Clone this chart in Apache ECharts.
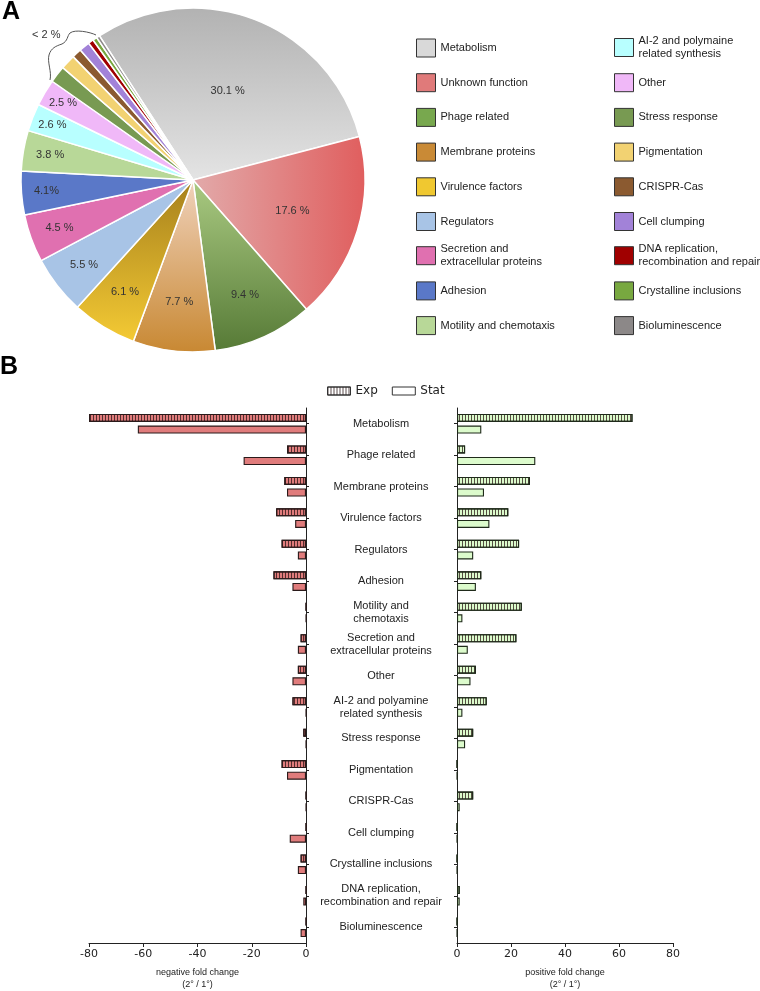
<!DOCTYPE html>
<html><head><meta charset="utf-8">
<script src="https://cdn.jsdelivr.net/npm/echarts@6/dist/echarts.min.js"></script>
<style>html,body{margin:0;padding:0;background:#fff}#c{width:760px;height:991px}</style>
</head><body><div id="c"></div>
<script>
// ---------- Panel A data ----------
const pieCategories = ['Metabolism','Unknown function','Phage related','Membrane proteins','Virulence factors','Regulators','Secretion and\nextracellular proteins','Adhesion','Motility and chemotaxis','AI-2 and polymaine\nrelated synthesis','Other','Stress response','Pigmentation','CRISPR-Cas','Cell clumping','DNA replication,\nrecombination and repair','Crystalline inclusions','Bioluminescence'];
const pieValues = [30.1,17.6,9.4,7.7,6.1,5.5,4.5,4.1,3.8,2.6,2.5,1.6,1.4,0.9,1.0,0.5,0.4,0.3];
const pieLabelText = ['30.1 %','17.6 %','9.4 %','7.7 %','6.1 %','5.5 %','4.5 %','4.1%','3.8 %','2.6 %','2.5 %'];

// ---------- Panel B data ----------
const barCategories = ['Metabolism','Phage related','Membrane proteins','Virulence factors','Regulators','Adhesion','Motility and\nchemotaxis','Secretion and\nextracellular proteins','Other','AI-2 and polyamine\nrelated synthesis','Stress response','Pigmentation','CRISPR-Cas','Cell clumping','Crystalline inclusions','DNA replication,\nrecombination and repair','Bioluminescence'];
const negExp  = [-80,-7,-8,-11,-9,-12,0,-2,-3,-5,-1,-9,0,0,-2,0,0];
const negStat = [-62,-23,-7,-4,-3,-5,0,-3,-5,0,0,-7,0,-6,-3,-1,-2];
const posExp  = [65,3,27,19,23,9,24,22,7,11,6,0,6,0,0,1,0];
const posStat = [9,29,10,12,6,7,2,4,5,2,3,0,1,0,0,1,0];
const negTicks = [-80,-60,-40,-20,0];
const posTicks = [0,20,40,60,80];

// ---------- styles ----------
const flatColors = ['#d9d9d9','#e07a7a','#78a84e','#c98a36','#f0c830','#a8c4e6','#e070b0','#5a78c8','#b8d898','#b8ffff','#f0b8f8','#789a52','#f2d272','#8b5a30','#a282d8','#a00000','#78a840','#8c8888'];
function lin(x2,y2,c1,c2){return {type:'linear',x:0,y:0,x2:x2,y2:y2,colorStops:[{offset:0,color:c1},{offset:1,color:c2}]};}
const sliceFill = flatColors.slice();
sliceFill[0] = lin(0,1,'#b2b2b2','#e4e4e4');
sliceFill[1] = lin(1,0,'#e2aaaa','#e05e5e');
sliceFill[2] = lin(0,1,'#aaca82','#567a36');
sliceFill[3] = lin(0,1,'#f0d2bc','#c88832');
sliceFill[4] = lin(0,1,'#a6801c','#f4ca34');
const labelRadius = [96,104,126,123,131,138,142,147,145,151,151];
const pieCenter = [193,180];

const hatch = {symbol:'rect', symbolSize:1, dashArrayX:[1,2], dashArrayY:[4,0], color:'rgba(40,20,20,0.75)'};

const chart = echarts.init(document.getElementById('c'), null, {renderer:'canvas'});

const legends = pieCategories.map((name,i)=>{
  const col = i < 9 ? 0 : 1;
  const row = i % 9;
  const lines = name.split('\n').length;
  const h = Math.max(18, lines*13);
  const cy = 47.5 + row*34.7;
  return {
    data:[{name:name, itemStyle:{color:flatColors[i]}}],
    left: col===0 ? 416 : 614,
    top: cy - h/2,
    orient:'vertical', icon:'rect', itemWidth:19, itemHeight:18, itemGap:0, padding:0,
    selectedMode:false,
    itemStyle:{borderColor:'#333', borderWidth:1},
    textStyle:{fontSize:11, color:'#222', fontFamily:'Liberation Sans', lineHeight:13}
  };
});
legends.push({
  data:[{name:'Exp', itemStyle:{color:'#fff', borderColor:'#333', borderWidth:1, decal:hatch}},
        {name:'Stat', itemStyle:{color:'#fff', borderColor:'#333', borderWidth:1}}],
  left:327, top:385, icon:'rect', itemWidth:23, itemHeight:8, itemGap:14, padding:0,
  selectedMode:false,
  textStyle:{fontSize:12, color:'#222', fontFamily:'DejaVu Sans'}
});

const axisCommon = {
  axisLine:{show:true, onZero:false, lineStyle:{color:'#222', width:1}},
  axisTick:{show:true, length:4, lineStyle:{color:'#222'}},
  splitLine:{show:false}
};

function bz(p){return {type:'bezierCurve', shape:{x1:p[0],y1:p[1],cpx1:p[2],cpy1:p[3],cpx2:p[4],cpy2:p[5],x2:p[6],y2:p[7]}, style:{fill:null, stroke:'#555', lineWidth:1}, silent:true};}

const option = {
  animation:false,
  textStyle:{fontFamily:'Liberation Sans'},
  title:[
    {text:'A', left:2, top:0, padding:0, textStyle:{fontSize:25, fontWeight:'bold', color:'#000', fontFamily:'Liberation Sans'}},
    {text:'B', left:0, top:355, padding:0, textStyle:{fontSize:25, fontWeight:'bold', color:'#000', fontFamily:'Liberation Sans'}}
  ],
  legend: legends,
  grid:[
    {left:89, right:454, top:408, bottom:48, containLabel:false, outerBoundsMode:'none'},
    {left:457, right:87, top:408, bottom:48, containLabel:false, outerBoundsMode:'none'}
  ],
  xAxis:[
    Object.assign({type:'value', gridIndex:0, min:negTicks[0], max:negTicks[negTicks.length-1], interval:20,
      name:'negative fold change\n(2° / 1°)', nameLocation:'middle', nameGap:24,
      nameTextStyle:{fontSize:9, color:'#222', lineHeight:12, fontFamily:'Liberation Sans'},
      axisLabel:{fontSize:11, color:'#222', margin:6, fontFamily:'DejaVu Sans'}}, axisCommon),
    Object.assign({type:'value', gridIndex:1, min:posTicks[0], max:posTicks[posTicks.length-1], interval:20,
      name:'positive fold change\n(2° / 1°)', nameLocation:'middle', nameGap:24,
      nameTextStyle:{fontSize:9, color:'#222', lineHeight:12, fontFamily:'Liberation Sans'},
      axisLabel:{fontSize:11, color:'#222', margin:6, fontFamily:'DejaVu Sans'}}, axisCommon)
  ],
  yAxis:[
    {type:'category', gridIndex:0, data:barCategories, inverse:true, position:'right',
      axisLine:{show:true, lineStyle:{color:'#222'}},
      axisTick:{show:true, alignWithLabel:true, length:3, lineStyle:{color:'#222'}},
      axisLabel:{show:false}},
    {type:'category', gridIndex:1, data:barCategories, inverse:true, position:'left',
      axisLine:{show:true, lineStyle:{color:'#222'}},
      axisTick:{show:true, alignWithLabel:true, length:3, lineStyle:{color:'#222'}},
      axisLabel:{show:true, align:'center', margin:76, fontSize:11, lineHeight:13, color:'#222', fontFamily:'Liberation Sans', interval:0}}
  ],
  series:[
    {
      name:'pie', type:'pie', center:pieCenter, radius:172, startAngle:123, clockwise:true,
      avoidLabelOverlap:false, silent:true,
      data: pieCategories.map((n,i)=>({name:n, value:pieValues[i], itemStyle:{color:sliceFill[i]}})),
      itemStyle:{borderColor:'#fff', borderWidth:1.5},
      label:{show:true, position:'inside', fontSize:11, color:'#333', fontFamily:'Liberation Sans',
        formatter:p=> p.dataIndex < pieLabelText.length ? pieLabelText[p.dataIndex] : ''},
      labelLine:{show:false},
      labelLayout:function(p){
        const R = labelRadius[p.dataIndex];
        if (R == null) return {};
        const r = p.labelRect;
        const dx = r.x + r.width/2 - pieCenter[0], dy = r.y + r.height/2 - pieCenter[1];
        const d = Math.hypot(dx,dy) || 1;
        return {x: pieCenter[0] + dx/d*R, y: pieCenter[1] + dy/d*R, align:'center', verticalAlign:'middle'};
      }
    },
    {name:'Exp', type:'bar', xAxisIndex:0, yAxisIndex:0, data:negExp, barWidth:8, barGap:'45%',
      itemStyle:{color:'#e07c7c', borderColor:'#2a1a1a', borderWidth:1.1, decal:hatch}},
    {name:'Stat', type:'bar', xAxisIndex:0, yAxisIndex:0, data:negStat, barWidth:8, barGap:'45%',
      itemStyle:{color:'#e07c7c', borderColor:'#2a1a1a', borderWidth:1.1}},
    {name:'Exp', type:'bar', xAxisIndex:1, yAxisIndex:1, data:posExp, barWidth:8, barGap:'45%',
      itemStyle:{color:'#dcfbcc', borderColor:'#1f2a1a', borderWidth:1.1, decal:hatch}},
    {name:'Stat', type:'bar', xAxisIndex:1, yAxisIndex:1, data:posStat, barWidth:8, barGap:'45%',
      itemStyle:{color:'#dcfbcc', borderColor:'#1f2a1a', borderWidth:1.1}}
  ],
  graphic:[
    {type:'text', left:32, top:29, silent:true, style:{text:'< 2 %', fontSize:11, fill:'#333', fontFamily:'Liberation Sans'}},
    bz([96,35, 90,32, 75,29, 70,33]),
    bz([70,33, 67,36, 68,41, 62,44]),
    bz([62,44, 56,46, 51,48, 49,55]),
    bz([49,55, 47,62, 52,72, 50,80])
  ]
};
chart.setOption(option);
</script>
</body></html>
